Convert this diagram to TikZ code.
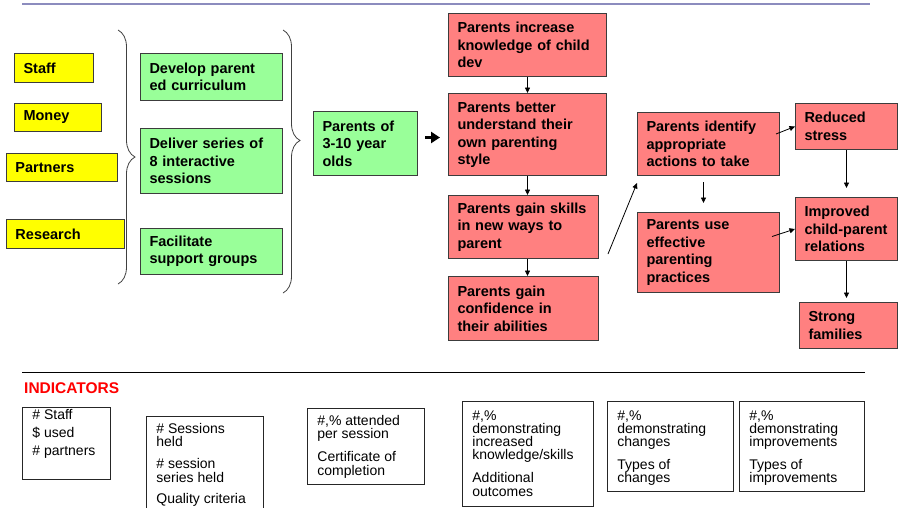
\documentclass[tikz,border=0pt]{standalone}
\usepackage{fontspec}
\setmainfont{Liberation Sans}
\usepackage{xcolor}
\usetikzlibrary{arrows.meta,calc,decorations.pathreplacing}
\definecolor{lmyellow}{RGB}{255,255,0}
\definecolor{lmgreen}{RGB}{153,255,153}
\definecolor{lmred}{RGB}{255,128,128}
\definecolor{lmrule}{RGB}{140,140,190}
\definecolor{lmframe}{RGB}{60,60,60}
% text block of an indicator box: height, width, top gap, lines
\newcommand{\indtext}[4]{\begin{minipage}[t][#1][t]{#2}\raggedright\vspace*{#3}#4\end{minipage}}

\begin{document}
\begin{tikzpicture}[x=1pt,y=-1pt,
  box/.style={draw=lmframe,line width=1pt,anchor=north west,align=left,
    inner xsep=9pt,inner ysep=0pt,font=\fontsize{14.5}{17.5}\selectfont\bfseries},
  inbox/.style={box,fill=lmyellow},
  actbox/.style={box,fill=lmgreen},
  outbox/.style={box,fill=lmred},
  indbox/.style={draw=black!85,line width=0.8pt,anchor=north west,
    inner xsep=10pt,inner ysep=1.5pt,font=\fontsize{14}{13.2}\selectfont},
  arr/.style={-{Triangle[length=5.5pt,width=5pt]},line width=0.8pt},
  curly/.style={decorate,decoration={brace,amplitude=17pt},draw=black!75,line width=0.8pt}]
\clip (0,0) rectangle (898,507);
% ---------------- top rule ----------------
\draw[lmrule,line width=2pt] (22,4) -- (870,4);
% ---------------- inputs ----------------
\node[inbox,minimum width=79,minimum height=29,text width=61pt] (staff) at (14,53) {Staff};
\node[inbox,minimum width=87,minimum height=28,text width=69pt] (money) at (14,103) {Money};
\node[inbox,minimum width=111,minimum height=28,text width=93pt] (partners) at (6,153) {Partners};
\node[inbox,minimum width=118,minimum height=29,text width=100pt] (research) at (6,219) {Research};
\draw[curly] (118,30) -- (118,284);
% ---------------- activities ----------------
\node[actbox,minimum width=142,minimum height=47,text width=124pt] (develop) at (140,53)
  {Develop parent\\ ed curriculum};
\node[actbox,minimum width=142,minimum height=65,text width=124pt] (deliver) at (140,128)
  {Deliver series of\\ 8 interactive\\ sessions};
\node[actbox,minimum width=142,minimum height=46,text width=124pt] (facilitate) at (140,228)
  {Facilitate\\ support groups};
\draw[curly,decoration={aspect=0.42}] (283,30) -- (283,293);
\node[actbox,minimum width=104,minimum height=64,text width=86pt] (parents) at (313,111)
  {Parents of\\ 3-10 year\\ olds};
% ---------------- outcomes ----------------
\node[outbox,minimum width=158,minimum height=63,text width=140pt] (know) at (448,13)
  {Parents increase\\ knowledge of child\\ dev};
\node[outbox,minimum width=158,minimum height=82,text width=140pt] (under) at (448,93)
  {Parents better\\ understand their\\ own parenting\\ style};
\node[outbox,minimum width=150,minimum height=63,text width=132pt] (skills) at (448,195)
  {Parents gain skills\\ in new ways to\\ parent};
\node[outbox,minimum width=150,minimum height=64,text width=132pt] (conf) at (448,276)
  {Parents gain\\ confidence in\\ their abilities};
\node[outbox,minimum width=142,minimum height=63,text width=124pt] (ident) at (637,112)
  {Parents identify\\ appropriate\\ actions to take};
\node[outbox,minimum width=142,minimum height=80,text width=124pt] (use) at (637,212)
  {Parents use\\ effective\\ parenting\\ practices};
\node[outbox,minimum width=102,minimum height=46,text width=84pt] (stress) at (795,103)
  {Reduced\\ stress};
\node[outbox,minimum width=102,minimum height=63,text width=84pt] (improved) at (795,197)
  {Improved\\ child-parent\\ relations};
\node[outbox,minimum width=98,minimum height=46,text width=80pt] (strong) at (799,302)
  {Strong\\ families};
% ---------------- arrows ----------------
\draw[-{Triangle[length=9pt,width=11pt]},line width=3.5pt]
  ($(parents.east)+(7,-6)$) -- ($(parents.east -| under.west)+(-8,-6)$);
\draw[arr] (know.south) -- (under.north);
\draw[arr] (under.south) -- (under.south |- skills.north);
\draw[arr] (under.south |- skills.south) -- (under.south |- conf.north);
\draw[arr] ($(skills.south east)+(9,-5)$) -- ($(ident.south west)+(0,7)$);
\draw[arr] ($(ident.south)+(-5,6)$) -- ($(use.north)+(-5,-9)$);
\draw[arr] ($(ident.east)+(-4,-10)$) -- (stress.west);
\draw[arr] ($(use.east)+(-8,-16)$) -- (improved.west);
\draw[arr] (stress.south) -- ($(improved.north)+(0,-9)$);
\draw[arr] (improved.south) -- ($(strong.north -| improved.south)+(0,-4)$);
% ---------------- indicators ----------------
\draw[line width=0.8pt] (22,372) -- (865,372);
\node[font=\fontsize{15.5}{18}\selectfont\bfseries,text=red,anchor=base west,inner sep=0pt]
  (indhead) at (24,393) {INDICATORS};
\node[indbox] (ind1) at (22,407)
  {\indtext{69pt}{68pt}{0pt}{\# Staff\\[5pt]\$ used\\[5pt]\# partners}};
\node[indbox] (ind2) at (146,416)
  {\indtext{100pt}{97pt}{5.5pt}{\# Sessions\\ held\\[9pt]\# session\\ series held\\[8pt]Quality criteria}};
\node[indbox] (ind3) at (307,408)
  {\indtext{73pt}{97pt}{5.5pt}{\#,\% attended\\ per session\\[10pt]Certificate of\\ completion}};
\node[indbox] (ind4) at (462,401)
  {\indtext{102pt}{111pt}{7.5pt}{\#,\%\\ demonstrating\\ increased\\ knowledge/skills\\[10pt]Additional\\ outcomes}};
\node[indbox] (ind5) at (607,401)
  {\indtext{87pt}{106pt}{7.5pt}{\#,\%\\ demonstrating\\ changes\\[10pt]Types of\\ changes}};
\node[indbox] (ind6) at (739,401)
  {\indtext{87pt}{105pt}{7.5pt}{\#,\%\\ demonstrating\\ improvements\\[10pt]Types of\\ improvements}};
\end{tikzpicture}
\end{document}
